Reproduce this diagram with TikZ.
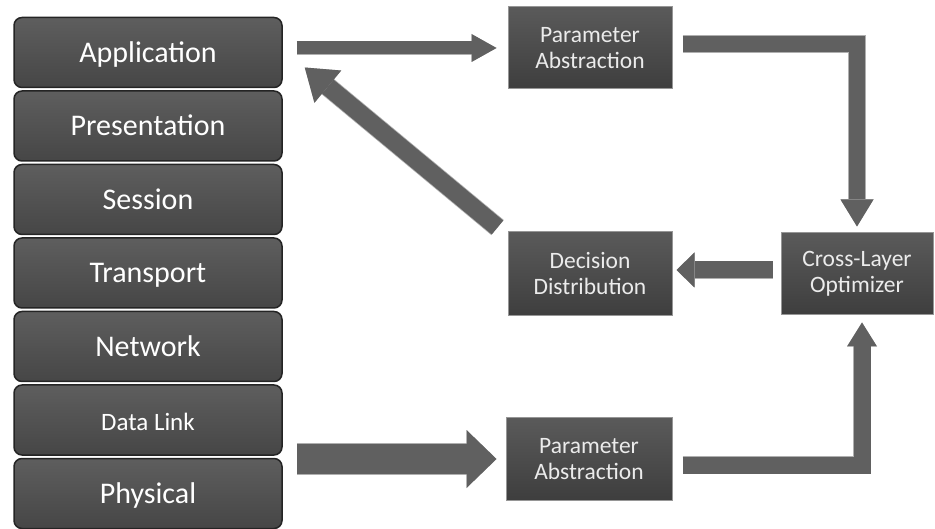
\documentclass[tikz,border=0pt]{standalone}
\usepackage{fontspec}
\setmainfont{Carlito}
\usepackage{xcolor}
\usepackage{tikz}
\usetikzlibrary{positioning, arrows.meta, calc}

\definecolor{layertop}{RGB}{94,94,94}
\definecolor{layerbot}{RGB}{70,70,70}
\definecolor{layeredge}{RGB}{36,36,36}
\definecolor{proctop}{RGB}{90,90,90}
\definecolor{procbot}{RGB}{62,62,62}
\definecolor{procrim}{RGB}{150,150,150}
\definecolor{arrowgray}{RGB}{96,96,96}
\definecolor{arrowrim}{RGB}{175,175,175}

\begin{document}
\begin{tikzpicture}[x=1pt, y=-1pt,
  layer/.style={draw=layeredge, line width=1.5pt, rounded corners=8pt, top color=layertop, bottom color=layerbot, minimum width=268pt, minimum height=70pt, text=white, text height=20pt, text depth=0pt, font=\fontsize{30}{33}\selectfont},
  proc/.style={draw=procrim, line width=1pt, top color=proctop, bottom color=procbot, minimum width=164pt, minimum height=82pt, text=white!92!black, align=center, font=\fontsize{23.5}{26}\selectfont},
  barrow/.style n args={3}{draw=arrowgray, line width=#1, line join=miter, -{Triangle[length=#3, width=#2, line width=0pt]}, preaction={draw=arrowrim, line width=#1+1.6pt}}
]
  \useasboundingbox (0,0) rectangle (935,529);

  % OSI stack
  \node[layer] (app) at (148,52.5)  {Application};
  \node[layer] (pre) at (148,126)   {Presentation};
  \node[layer] (ses) at (148,199.5) {Session};
  \node[layer] (tra) at (148,273)   {Transport};
  \node[layer] (net) at (148,346.5) {Network};
  \node[layer, font=\fontsize{25}{28}\selectfont] (dl) at (148,420) {Data Link};
  \node[layer] (phy) at (148,493.5) {Physical};

  % right-hand blocks
  \node[proc] (pa1) at (590,48)  {Parameter\\Abstraction};
  \node[proc, minimum height=84pt] (dd) at (590,274) {Decision\\Distribution};
  \node[proc, minimum width=152pt] (clo) at (857,274) {Cross-Layer\\Optimizer};
  \node[proc, minimum width=166pt] (pa2) at (589,459) {Parameter\\Abstraction};

  % arrows
  \draw[barrow={13pt}{28pt}{25pt}] ([xshift=14pt]app.east |- pa1.west) -- ([xshift=-11pt]pa1.west);
  \draw[barrow={18pt}{42pt}{30pt}] ([shift={(-10pt,4pt)}]dd.north west) -- ([shift={(22pt,-15pt)}]app.east);
  \draw[barrow={16pt}{33pt}{27pt}] ([shift={(10pt,4pt)}]pa1.east) -| ([yshift=6pt]clo.north);
  \draw[barrow={17pt}{35pt}{18pt}] ([shift={(-8pt,4pt)}]clo.west) -- ([shift={(4pt,4pt)}]dd.east);
  \draw[barrow={17pt}{30pt}{24pt}] ([shift={(10pt,-6pt)}]pa2.east) -| ([shift={(5pt,-7pt)}]clo.south);
  \draw[barrow={30pt}{58pt}{30pt}] ([xshift=14pt]phy.east |- pa2.west) -- ([xshift=-9pt]pa2.west);
\end{tikzpicture}
\end{document}
